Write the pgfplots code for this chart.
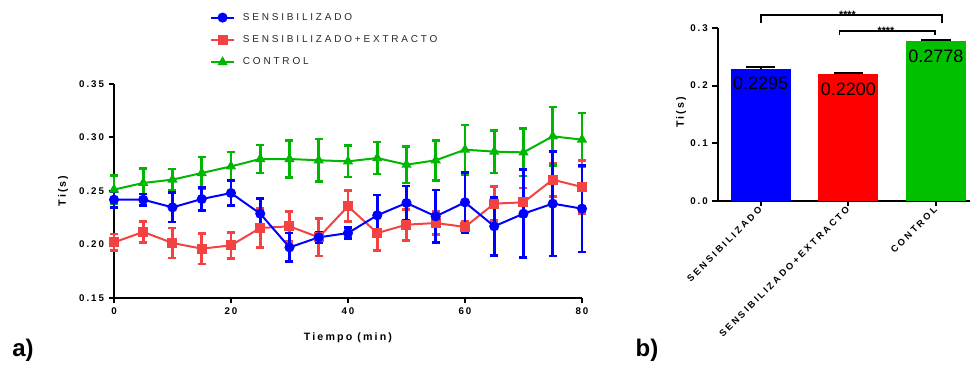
\documentclass[border=0pt]{standalone}
\usepackage{pgfplots}
\usepackage{pgfplotstable}
\pgfplotsset{compat=1.18}
\usepackage{fontspec}
\setmainfont{Liberation Sans}
\newfontfamily\spc[LetterSpace=20]{Liberation Sans}
\newfontfamily\spcx[LetterSpace=26]{Liberation Sans}
\newfontfamily\spcl[LetterSpace=28]{Liberation Sans}
\definecolor{cblue}{RGB}{0,0,255}
\definecolor{cred}{RGB}{242,66,66}
\definecolor{cgreen}{RGB}{0,182,0}
\definecolor{bred}{RGB}{255,0,0}
\definecolor{bgreen}{RGB}{0,192,0}
\definecolor{legtext}{RGB}{40,40,40}

\pgfplotstableread{
t m e
0 0.2419 0.0073
5 0.2419 0.0053
10 0.2347 0.0137
15 0.2425 0.0110
20 0.2481 0.0114
25 0.2288 0.0140
30 0.1973 0.0133
35 0.2067 0.0047
40 0.2107 0.0050
45 0.2273 0.0190
50 0.2388 0.0160
55 0.2263 0.0246
60 0.2394 0.0280
65 0.2170 0.0272
70 0.2288 0.0410
75 0.2382 0.0490
80 0.2335 0.0405
}\sens

\pgfplotstableread{
t m e
0 0.2020 0.0078
5 0.2117 0.0097
10 0.2014 0.0140
15 0.1961 0.0143
20 0.1992 0.0120
25 0.2154 0.0184
30 0.2170 0.0140
35 0.2067 0.0174
40 0.2357 0.0145
45 0.2107 0.0160
50 0.2185 0.0145
55 0.2201 0.0106
60 0.2164 0.0050
65 0.2382 0.0160
70 0.2394 0.0135
75 0.2606 0.0156
80 0.2537 0.0250
}\sensext

\pgfplotstableread{
t m e
0 0.2513 0.0130
5 0.2575 0.0134
10 0.2606 0.0100
15 0.2668 0.0150
20 0.2730 0.0134
25 0.2799 0.0130
30 0.2799 0.0170
35 0.2787 0.0200
40 0.2777 0.0146
45 0.2808 0.0150
50 0.2746 0.0170
55 0.2787 0.0187
60 0.2886 0.0230
65 0.2868 0.0200
70 0.2861 0.0220
75 0.3011 0.0274
80 0.2980 0.0250
}\control

\begin{document}
\begin{tikzpicture}
\path[use as bounding box] (0pt,0pt) rectangle (728.25pt,275.25pt);
\pgfplotsset{
  gp/.style={
    scale only axis,
    axis x line*=bottom, axis y line*=left,
    axis line style={line width=1.5pt, black},
    tick align=outside, major tick length=4pt,
    every tick/.style={line width=1.5pt, black},
    ticklabel style={font=\spc\bfseries\fontsize{7.3}{8}\selectfont},
    /pgf/number format/assume math mode=true,
    label style={font=\spc\bfseries\fontsize{8}{9}\selectfont},
    clip=false,
  }
}
\begin{axis}[gp,
  at={(85.5pt,51.75pt)}, anchor=south west,
  width=351pt, height=160.5pt,
  xmin=0, xmax=80, ymin=0.15, ymax=0.35,
  xtick={0,20,40,60,80},
  ytick={0.15,0.20,0.25,0.30,0.35},
  yticklabel style={/pgf/number format/.cd, fixed, precision=2, zerofill},
  xlabel={Tiempo (min)},
  ylabel={Ti(s)},
  xlabel style={at={(axis description cs:0.5,-0.185)}, anchor=center},
  ylabel style={at={(axis description cs:-0.109,0.5)}, anchor=center},
  reverse legend,
  legend cell align=left,
  legend style={draw=none, fill=none, at={(0.205,1.345)}, anchor=north west,
    inner sep=0pt, row sep=6pt,
    font=\spcl\fontsize{7.5}{8}\selectfont\color{legtext},
    nodes={inner xsep=6pt}},
  error bars/y dir=both, error bars/y explicit,
  error bars/error bar style={line width=2pt},
  error bars/error mark options={rotate=90, mark size=3pt, line width=2pt},
]
\addplot[color=cgreen, line width=1.5pt, mark=triangle*, mark size=3pt,
  error bars/error bar style={line width=2pt, color=cgreen}]
  table[x=t, y=m, y error=e] {\control};
\addlegendentry{CONTROL}
\addplot[color=cred, line width=1.5pt, mark=square*, mark size=3pt,
  error bars/error bar style={line width=2pt, color=cred}]
  table[x=t, y=m, y error=e] {\sensext};
\addlegendentry{SENSIBILIZADO+EXTRACTO}
\addplot[color=cblue, line width=1.5pt, mark=*, mark size=3pt,
  error bars/error bar style={line width=2pt, color=cblue}]
  table[x=t, y=m, y error=e] {\sens};
\addlegendentry{SENSIBILIZADO}
\end{axis}

\begin{axis}[gp,
  at={(538.3pt,124.7pt)}, anchor=south west,
  width=189.2pt, height=129.5pt,
  xmin=-0.491, xmax=2.39, ymin=0, ymax=0.3,
  ytick={0,0.1,0.2,0.3},
  yticklabel style={/pgf/number format/.cd, fixed, precision=1, zerofill},
  xtick={0,1,2},
  xticklabels={SENSIBILIZADO, SENSIBILIZADO+EXTRACTO, CONTROL},
  xticklabel style={rotate=45, anchor=east, xshift=2pt, yshift=-1pt, font=\spcx\bfseries\fontsize{7}{8}\selectfont},
  ylabel={Ti(s)},
  ylabel style={at={(axis description cs:-0.145,0.513)}, anchor=center},
  ybar, bar width=45pt, bar shift=0pt,
  error bars/y dir=plus, error bars/y explicit,
  error bars/error bar style={line width=1.5pt, black},
  error bars/error mark options={rotate=90, mark size=11pt, line width=1.5pt, black},
  nodes near coords={\pgfmathprintnumber[fixed,precision=4,zerofill,assume math mode=true]{\pgfplotspointmeta}},
  every node near coord/.append style={anchor=north, yshift=-3pt, font=\fontsize{13.5}{14}\selectfont, black},
]
\addplot[fill=cblue, draw=none] coordinates {(0,0.2295) +- (0,0.002)};
\addplot[fill=bred, draw=none] coordinates {(1,0.2200) +- (0,0.002)};
\addplot[fill=bgreen, draw=none] coordinates {(2,0.2778) +- (0,0.002)};
\draw[line width=1.3pt] (axis cs:0,0.3085) -- (axis cs:0,0.3224) -- (axis cs:2.07,0.3224) -- (axis cs:2.07,0.3085);
\draw[line width=1.3pt] (axis cs:0.9,0.2877) -- (axis cs:0.9,0.2951) -- (axis cs:1.99,0.2951) -- (axis cs:1.99,0.2877);
\node[font=\fontsize{8}{8}\selectfont\bfseries, inner sep=0pt] at (axis cs:0.99,0.3224) {****};
\node[font=\fontsize{8}{8}\selectfont\bfseries, inner sep=0pt] at (axis cs:1.43,0.2951) {****};
\end{axis}

\node[font=\bfseries\fontsize{18}{20}\selectfont] at (17.25pt,12.75pt) {a)};
\node[font=\bfseries\fontsize{18}{20}\selectfont] at (485.25pt,12.75pt) {b)};
\end{tikzpicture}
\end{document}
